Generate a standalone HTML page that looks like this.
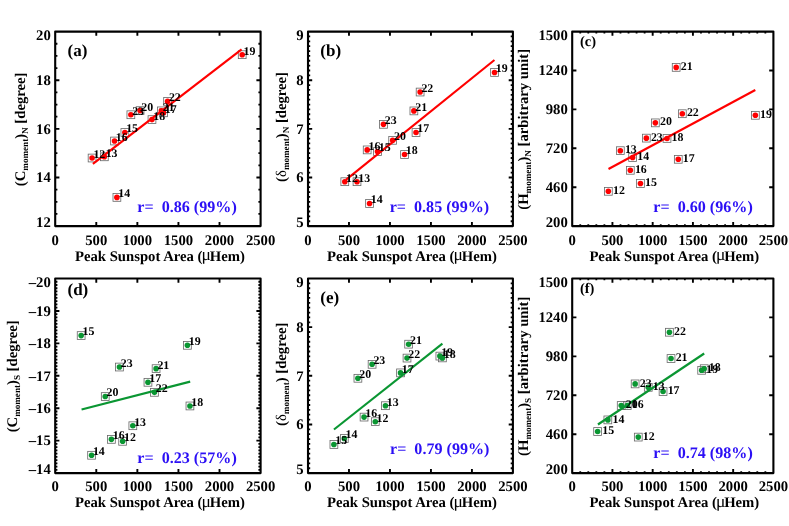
<!DOCTYPE html>
<html><head><meta charset="utf-8"><title>Moments vs Peak Sunspot Area</title>
<style>
html,body{margin:0;padding:0;background:#fff;}
body{width:789px;height:526px;overflow:hidden;}
svg{display:block;will-change:transform;}
text{font-family:"Liberation Serif",serif;text-rendering:geometricPrecision;}
.b{font-weight:bold;}
.n{font-weight:normal;}
.r{white-space:pre;}
</style></head>
<body>
<svg width="789" height="526" viewBox="0 0 789 526">
<rect width="789" height="526" fill="#fff"/>
<g id="panel-a">
<rect x="88.19" y="154.12" width="7.8" height="7.8" fill="none" stroke="#666" stroke-width="0.8"/>
<rect x="100.43" y="152.91" width="7.8" height="7.8" fill="none" stroke="#666" stroke-width="0.8"/>
<rect x="113" y="193.51" width="7.8" height="7.8" fill="none" stroke="#666" stroke-width="0.8"/>
<rect x="120.97" y="128.6" width="7.8" height="7.8" fill="none" stroke="#666" stroke-width="0.8"/>
<rect x="110.62" y="137.11" width="7.8" height="7.8" fill="none" stroke="#666" stroke-width="0.8"/>
<rect x="159.59" y="108.9" width="7.8" height="7.8" fill="none" stroke="#666" stroke-width="0.8"/>
<rect x="148.08" y="115.71" width="7.8" height="7.8" fill="none" stroke="#666" stroke-width="0.8"/>
<rect x="238.3" y="50.8" width="7.8" height="7.8" fill="none" stroke="#666" stroke-width="0.8"/>
<rect x="136.17" y="106.72" width="7.8" height="7.8" fill="none" stroke="#666" stroke-width="0.8"/>
<rect x="157.45" y="106.96" width="7.8" height="7.8" fill="none" stroke="#666" stroke-width="0.8"/>
<rect x="163.69" y="97.48" width="7.8" height="7.8" fill="none" stroke="#666" stroke-width="0.8"/>
<rect x="126.97" y="110.85" width="7.8" height="7.8" fill="none" stroke="#666" stroke-width="0.8"/>
<line x1="92.91" y1="163.86" x2="241.62" y2="49.35" stroke="#ff0000" stroke-width="2.15" stroke-linecap="butt"/>
<circle cx="92.09" cy="158.02" r="2.8" fill="#ff0000"/>
<circle cx="104.33" cy="156.81" r="2.8" fill="#ff0000"/>
<circle cx="116.9" cy="197.41" r="2.8" fill="#ff0000"/>
<circle cx="124.87" cy="132.5" r="2.8" fill="#ff0000"/>
<circle cx="114.52" cy="141.01" r="2.8" fill="#ff0000"/>
<circle cx="163.49" cy="112.8" r="2.8" fill="#ff0000"/>
<circle cx="151.98" cy="119.61" r="2.8" fill="#ff0000"/>
<circle cx="242.2" cy="54.7" r="2.8" fill="#ff0000"/>
<circle cx="140.07" cy="110.62" r="2.8" fill="#ff0000"/>
<circle cx="161.35" cy="110.86" r="2.8" fill="#ff0000"/>
<circle cx="167.59" cy="101.38" r="2.8" fill="#ff0000"/>
<circle cx="130.87" cy="114.75" r="2.8" fill="#ff0000"/>
<text x="93.39" y="157.92" font-size="11.9" class="b">12</text>
<text x="105.63" y="156.71" font-size="11.9" class="b">13</text>
<text x="118.2" y="197.31" font-size="11.9" class="b">14</text>
<text x="126.17" y="132.4" font-size="11.9" class="b">15</text>
<text x="115.82" y="140.91" font-size="11.9" class="b">16</text>
<text x="164.79" y="112.7" font-size="11.9" class="b">17</text>
<text x="153.28" y="119.51" font-size="11.9" class="b">18</text>
<text x="243.5" y="54.6" font-size="11.9" class="b">19</text>
<text x="141.37" y="110.52" font-size="11.9" class="b">20</text>
<text x="162.65" y="110.76" font-size="11.9" class="b">21</text>
<text x="168.89" y="101.28" font-size="11.9" class="b">22</text>
<text x="132.17" y="114.65" font-size="11.9" class="b">23</text>
<path d="M96.28 226.1v-4.2M96.28 31.6v4.2M137.36 226.1v-4.2M137.36 31.6v4.2M178.44 226.1v-4.2M178.44 31.6v4.2M219.52 226.1v-4.2M219.52 31.6v4.2M55.2 177.47h4.2M260.6 177.47h-4.2M55.2 128.85h4.2M260.6 128.85h-4.2M55.2 80.22h4.2M260.6 80.22h-4.2" stroke="#000" stroke-width="1.9" fill="none"/>
<path d="M55.2 213.94h2.2M260.6 213.94h-2.2M55.2 201.79h2.2M260.6 201.79h-2.2M55.2 189.63h2.2M260.6 189.63h-2.2M55.2 165.32h2.2M260.6 165.32h-2.2M55.2 153.16h2.2M260.6 153.16h-2.2M55.2 141.01h2.2M260.6 141.01h-2.2M55.2 116.69h2.2M260.6 116.69h-2.2M55.2 104.54h2.2M260.6 104.54h-2.2M55.2 92.38h2.2M260.6 92.38h-2.2M55.2 68.07h2.2M260.6 68.07h-2.2M55.2 55.91h2.2M260.6 55.91h-2.2M55.2 43.76h2.2M260.6 43.76h-2.2" stroke="#000" stroke-width="1.8" fill="none"/>
<rect x="55.2" y="31.6" width="205.4" height="194.5" fill="none" stroke="#000" stroke-width="2.1" stroke-linejoin="round"/>
<text x="55.2" y="244.8" font-size="14.7" text-anchor="middle" class="b">0</text>
<text x="96.28" y="244.8" font-size="14.7" text-anchor="middle" class="b">500</text>
<text x="137.36" y="244.8" font-size="14.7" text-anchor="middle" class="b">1000</text>
<text x="178.44" y="244.8" font-size="14.7" text-anchor="middle" class="b">1500</text>
<text x="219.52" y="244.8" font-size="14.7" text-anchor="middle" class="b">2000</text>
<text x="260.6" y="244.8" font-size="14.7" text-anchor="middle" class="b">2500</text>
<text x="50.8" y="226.6" font-size="14.7" text-anchor="end" class="b">12</text>
<text x="50.8" y="182.17" font-size="14.7" text-anchor="end" class="b">14</text>
<text x="50.8" y="133.55" font-size="14.7" text-anchor="end" class="b">16</text>
<text x="50.8" y="84.92" font-size="14.7" text-anchor="end" class="b">18</text>
<text x="50.8" y="40.4" font-size="14.7" text-anchor="end" class="b">20</text>
<text x="75" y="260.9" font-size="14.7" class="b">Peak Sunspot Area (<tspan class="n" font-size="17.5" dx="-0.9" dy="-0.6">μ</tspan><tspan dx="-1.2" dy="0.6">Hem)</tspan></text>
<text transform="translate(25.3 129.35) rotate(-90)" text-anchor="middle" font-size="14.7" class="b">(C<tspan font-size="9.1" dy="3">moment</tspan><tspan dy="-3">)</tspan><tspan font-size="9.1" dy="3">N</tspan><tspan dy="-3"> [degree]</tspan></text>
<text x="67.5" y="55.8" font-size="17.0" class="b">(a)</text>
<text x="137.3" y="211.8" font-size="16.1" class="b r" fill="#2b0ff5">r=  0.86 (99%)</text>
</g>
<g id="panel-b">
<rect x="340.9" y="177.81" width="7.8" height="7.8" fill="none" stroke="#666" stroke-width="0.8"/>
<rect x="353.11" y="177.81" width="7.8" height="7.8" fill="none" stroke="#666" stroke-width="0.8"/>
<rect x="365.65" y="199.59" width="7.8" height="7.8" fill="none" stroke="#666" stroke-width="0.8"/>
<rect x="373.6" y="147.61" width="7.8" height="7.8" fill="none" stroke="#666" stroke-width="0.8"/>
<rect x="363.28" y="146" width="7.8" height="7.8" fill="none" stroke="#666" stroke-width="0.8"/>
<rect x="412.12" y="128.6" width="7.8" height="7.8" fill="none" stroke="#666" stroke-width="0.8"/>
<rect x="400.65" y="150.62" width="7.8" height="7.8" fill="none" stroke="#666" stroke-width="0.8"/>
<rect x="490.64" y="68.54" width="7.8" height="7.8" fill="none" stroke="#666" stroke-width="0.8"/>
<rect x="388.76" y="136.43" width="7.8" height="7.8" fill="none" stroke="#666" stroke-width="0.8"/>
<rect x="409.99" y="107.01" width="7.8" height="7.8" fill="none" stroke="#666" stroke-width="0.8"/>
<rect x="416.22" y="88.14" width="7.8" height="7.8" fill="none" stroke="#666" stroke-width="0.8"/>
<rect x="379.59" y="120.43" width="7.8" height="7.8" fill="none" stroke="#666" stroke-width="0.8"/>
<line x1="345.87" y1="179.91" x2="494.46" y2="60" stroke="#ff0000" stroke-width="2.15" stroke-linecap="butt"/>
<circle cx="344.8" cy="181.71" r="2.8" fill="#ff0000"/>
<circle cx="357.01" cy="181.71" r="2.8" fill="#ff0000"/>
<circle cx="369.55" cy="203.49" r="2.8" fill="#ff0000"/>
<circle cx="377.5" cy="151.51" r="2.8" fill="#ff0000"/>
<circle cx="367.18" cy="149.9" r="2.8" fill="#ff0000"/>
<circle cx="416.02" cy="132.5" r="2.8" fill="#ff0000"/>
<circle cx="404.55" cy="154.52" r="2.8" fill="#ff0000"/>
<circle cx="494.54" cy="72.44" r="2.8" fill="#ff0000"/>
<circle cx="392.66" cy="140.33" r="2.8" fill="#ff0000"/>
<circle cx="413.89" cy="110.91" r="2.8" fill="#ff0000"/>
<circle cx="420.12" cy="92.04" r="2.8" fill="#ff0000"/>
<circle cx="383.49" cy="124.33" r="2.8" fill="#ff0000"/>
<text x="346.1" y="181.61" font-size="11.9" class="b">12</text>
<text x="358.31" y="181.61" font-size="11.9" class="b">13</text>
<text x="370.85" y="203.39" font-size="11.9" class="b">14</text>
<text x="378.8" y="151.41" font-size="11.9" class="b">15</text>
<text x="368.48" y="149.8" font-size="11.9" class="b">16</text>
<text x="417.32" y="132.4" font-size="11.9" class="b">17</text>
<text x="405.85" y="154.42" font-size="11.9" class="b">18</text>
<text x="495.84" y="72.34" font-size="11.9" class="b">19</text>
<text x="393.96" y="140.23" font-size="11.9" class="b">20</text>
<text x="415.19" y="110.81" font-size="11.9" class="b">21</text>
<text x="421.42" y="91.94" font-size="11.9" class="b">22</text>
<text x="384.79" y="124.23" font-size="11.9" class="b">23</text>
<path d="M348.98 226.1v-4.2M348.98 31.6v4.2M389.96 226.1v-4.2M389.96 31.6v4.2M430.94 226.1v-4.2M430.94 31.6v4.2M471.92 226.1v-4.2M471.92 31.6v4.2M308 177.47h4.2M512.9 177.47h-4.2M308 128.85h4.2M512.9 128.85h-4.2M308 80.22h4.2M512.9 80.22h-4.2" stroke="#000" stroke-width="1.9" fill="none"/>
<path d="M308 221.24h2.2M512.9 221.24h-2.2M308 216.38h2.2M512.9 216.38h-2.2M308 211.51h2.2M512.9 211.51h-2.2M308 206.65h2.2M512.9 206.65h-2.2M308 201.79h2.2M512.9 201.79h-2.2M308 196.93h2.2M512.9 196.93h-2.2M308 192.06h2.2M512.9 192.06h-2.2M308 187.2h2.2M512.9 187.2h-2.2M308 182.34h2.2M512.9 182.34h-2.2M308 172.61h2.2M512.9 172.61h-2.2M308 167.75h2.2M512.9 167.75h-2.2M308 162.89h2.2M512.9 162.89h-2.2M308 158.02h2.2M512.9 158.02h-2.2M308 153.16h2.2M512.9 153.16h-2.2M308 148.3h2.2M512.9 148.3h-2.2M308 143.44h2.2M512.9 143.44h-2.2M308 138.57h2.2M512.9 138.57h-2.2M308 133.71h2.2M512.9 133.71h-2.2M308 123.99h2.2M512.9 123.99h-2.2M308 119.12h2.2M512.9 119.12h-2.2M308 114.26h2.2M512.9 114.26h-2.2M308 109.4h2.2M512.9 109.4h-2.2M308 104.54h2.2M512.9 104.54h-2.2M308 99.68h2.2M512.9 99.68h-2.2M308 94.81h2.2M512.9 94.81h-2.2M308 89.95h2.2M512.9 89.95h-2.2M308 85.09h2.2M512.9 85.09h-2.2M308 75.36h2.2M512.9 75.36h-2.2M308 70.5h2.2M512.9 70.5h-2.2M308 65.64h2.2M512.9 65.64h-2.2M308 60.77h2.2M512.9 60.77h-2.2M308 55.91h2.2M512.9 55.91h-2.2M308 51.05h2.2M512.9 51.05h-2.2M308 46.19h2.2M512.9 46.19h-2.2M308 41.32h2.2M512.9 41.32h-2.2M308 36.46h2.2M512.9 36.46h-2.2" stroke="#000" stroke-width="1.8" fill="none"/>
<rect x="308" y="31.6" width="204.9" height="194.5" fill="none" stroke="#000" stroke-width="2.1" stroke-linejoin="round"/>
<text x="308" y="244.8" font-size="14.7" text-anchor="middle" class="b">0</text>
<text x="348.98" y="244.8" font-size="14.7" text-anchor="middle" class="b">500</text>
<text x="389.96" y="244.8" font-size="14.7" text-anchor="middle" class="b">1000</text>
<text x="430.94" y="244.8" font-size="14.7" text-anchor="middle" class="b">1500</text>
<text x="471.92" y="244.8" font-size="14.7" text-anchor="middle" class="b">2000</text>
<text x="512.9" y="244.8" font-size="14.7" text-anchor="middle" class="b">2500</text>
<text x="303.6" y="226.6" font-size="14.7" text-anchor="end" class="b">5</text>
<text x="303.6" y="182.17" font-size="14.7" text-anchor="end" class="b">6</text>
<text x="303.6" y="133.55" font-size="14.7" text-anchor="end" class="b">7</text>
<text x="303.6" y="84.92" font-size="14.7" text-anchor="end" class="b">8</text>
<text x="303.6" y="40.4" font-size="14.7" text-anchor="end" class="b">9</text>
<text x="327" y="260.9" font-size="14.7" class="b">Peak Sunspot Area (<tspan class="n" font-size="17.5" dx="-0.9" dy="-0.6">μ</tspan><tspan dx="-1.2" dy="0.6">Hem)</tspan></text>
<text transform="translate(286.4 126.95) rotate(-90)" text-anchor="middle" font-size="14.7" class="b">(<tspan class="n">δ</tspan><tspan font-size="9.1" dy="3">moment</tspan><tspan dy="-3">)</tspan><tspan font-size="9.1" dy="3">N</tspan><tspan dy="-3"> [degree]</tspan></text>
<text x="320.3" y="55.8" font-size="17.0" class="b">(b)</text>
<text x="389.7" y="211.8" font-size="16.1" class="b r" fill="#2b0ff5">r=  0.85 (99%)</text>
</g>
<g id="panel-c">
<rect x="604.44" y="187.4" width="7.8" height="7.8" fill="none" stroke="#666" stroke-width="0.8"/>
<rect x="616.43" y="146.79" width="7.8" height="7.8" fill="none" stroke="#666" stroke-width="0.8"/>
<rect x="628.74" y="153.59" width="7.8" height="7.8" fill="none" stroke="#666" stroke-width="0.8"/>
<rect x="636.55" y="179.59" width="7.8" height="7.8" fill="none" stroke="#666" stroke-width="0.8"/>
<rect x="626.41" y="166.39" width="7.8" height="7.8" fill="none" stroke="#666" stroke-width="0.8"/>
<rect x="674.37" y="155.4" width="7.8" height="7.8" fill="none" stroke="#666" stroke-width="0.8"/>
<rect x="663.11" y="134.53" width="7.8" height="7.8" fill="none" stroke="#666" stroke-width="0.8"/>
<rect x="751.47" y="111.39" width="7.8" height="7.8" fill="none" stroke="#666" stroke-width="0.8"/>
<rect x="651.44" y="118.97" width="7.8" height="7.8" fill="none" stroke="#666" stroke-width="0.8"/>
<rect x="672.28" y="63.49" width="7.8" height="7.8" fill="none" stroke="#666" stroke-width="0.8"/>
<rect x="678.4" y="109.84" width="7.8" height="7.8" fill="none" stroke="#666" stroke-width="0.8"/>
<rect x="642.42" y="134.23" width="7.8" height="7.8" fill="none" stroke="#666" stroke-width="0.8"/>
<line x1="608.5" y1="168.95" x2="755.29" y2="89.98" stroke="#ff0000" stroke-width="2.15" stroke-linecap="butt"/>
<circle cx="608.34" cy="191.3" r="2.8" fill="#ff0000"/>
<circle cx="620.33" cy="150.69" r="2.8" fill="#ff0000"/>
<circle cx="632.64" cy="157.49" r="2.8" fill="#ff0000"/>
<circle cx="640.45" cy="183.49" r="2.8" fill="#ff0000"/>
<circle cx="630.31" cy="170.29" r="2.8" fill="#ff0000"/>
<circle cx="678.27" cy="159.3" r="2.8" fill="#ff0000"/>
<circle cx="667.01" cy="138.43" r="2.8" fill="#ff0000"/>
<circle cx="755.37" cy="115.29" r="2.8" fill="#ff0000"/>
<circle cx="655.34" cy="122.87" r="2.8" fill="#ff0000"/>
<circle cx="676.18" cy="67.39" r="2.8" fill="#ff0000"/>
<circle cx="682.3" cy="113.74" r="2.8" fill="#ff0000"/>
<circle cx="646.32" cy="138.13" r="2.8" fill="#ff0000"/>
<text x="612.94" y="193.9" font-size="11.9" class="b">12</text>
<text x="624.93" y="153.29" font-size="11.9" class="b">13</text>
<text x="637.24" y="160.09" font-size="11.9" class="b">14</text>
<text x="645.05" y="186.09" font-size="11.9" class="b">15</text>
<text x="634.91" y="172.89" font-size="11.9" class="b">16</text>
<text x="682.87" y="161.9" font-size="11.9" class="b">17</text>
<text x="671.61" y="141.03" font-size="11.9" class="b">18</text>
<text x="759.97" y="117.89" font-size="11.9" class="b">19</text>
<text x="659.94" y="125.47" font-size="11.9" class="b">20</text>
<text x="680.78" y="69.99" font-size="11.9" class="b">21</text>
<text x="686.9" y="116.34" font-size="11.9" class="b">22</text>
<text x="650.92" y="140.73" font-size="11.9" class="b">23</text>
<path d="M612.44 226.1v-4.2M612.44 31.6v4.2M652.68 226.1v-4.2M652.68 31.6v4.2M692.92 226.1v-4.2M692.92 31.6v4.2M733.16 226.1v-4.2M733.16 31.6v4.2M572.2 187.2h4.2M773.4 187.2h-4.2M572.2 148.3h4.2M773.4 148.3h-4.2M572.2 109.4h4.2M773.4 109.4h-4.2M572.2 70.5h4.2M773.4 70.5h-4.2" stroke="#000" stroke-width="1.9" fill="none"/>
<path d="M580.25 226.1v-1.8M580.25 31.6v1.8M588.3 226.1v-1.8M588.3 31.6v1.8M596.34 226.1v-1.8M596.34 31.6v1.8M604.39 226.1v-1.8M604.39 31.6v1.8M620.49 226.1v-1.8M620.49 31.6v1.8M628.54 226.1v-1.8M628.54 31.6v1.8M636.58 226.1v-1.8M636.58 31.6v1.8M644.63 226.1v-1.8M644.63 31.6v1.8M660.73 226.1v-1.8M660.73 31.6v1.8M668.78 226.1v-1.8M668.78 31.6v1.8M676.82 226.1v-1.8M676.82 31.6v1.8M684.87 226.1v-1.8M684.87 31.6v1.8M700.97 226.1v-1.8M700.97 31.6v1.8M709.02 226.1v-1.8M709.02 31.6v1.8M717.06 226.1v-1.8M717.06 31.6v1.8M725.11 226.1v-1.8M725.11 31.6v1.8M741.21 226.1v-1.8M741.21 31.6v1.8M749.26 226.1v-1.8M749.26 31.6v1.8M757.3 226.1v-1.8M757.3 31.6v1.8M765.35 226.1v-1.8M765.35 31.6v1.8" stroke="#000" stroke-width="1.8" fill="none"/>
<rect x="572.2" y="31.6" width="201.2" height="194.5" fill="none" stroke="#000" stroke-width="2.1" stroke-linejoin="round"/>
<text x="572.2" y="244.8" font-size="14.7" text-anchor="middle" class="b">0</text>
<text x="612.44" y="244.8" font-size="14.7" text-anchor="middle" class="b">500</text>
<text x="652.68" y="244.8" font-size="14.7" text-anchor="middle" class="b">1000</text>
<text x="692.92" y="244.8" font-size="14.7" text-anchor="middle" class="b">1500</text>
<text x="733.16" y="244.8" font-size="14.7" text-anchor="middle" class="b">2000</text>
<text x="773.4" y="244.8" font-size="14.7" text-anchor="middle" class="b">2500</text>
<text x="567.8" y="226.6" font-size="14.7" text-anchor="end" class="b">200</text>
<text x="567.8" y="191.9" font-size="14.7" text-anchor="end" class="b">460</text>
<text x="567.8" y="153" font-size="14.7" text-anchor="end" class="b">720</text>
<text x="567.8" y="114.1" font-size="14.7" text-anchor="end" class="b">980</text>
<text x="567.8" y="75.2" font-size="14.7" text-anchor="end" class="b">1240</text>
<text x="567.8" y="40.4" font-size="14.7" text-anchor="end" class="b">1500</text>
<text x="589.4" y="260.9" font-size="14.7" class="b">Peak Sunspot Area (<tspan class="n" font-size="17.5" dx="-0.9" dy="-0.6">μ</tspan><tspan dx="-1.2" dy="0.6">Hem)</tspan></text>
<text transform="translate(527.7 129.35) rotate(-90)" text-anchor="middle" font-size="14.7" class="b">(H<tspan font-size="9.1" dy="3">moment</tspan><tspan dy="-3">)</tspan><tspan font-size="9.1" dy="3">N</tspan><tspan dy="-3"> [arbitrary unit]</tspan></text>
<text x="579.9" y="45.8" font-size="14.5" class="b">(c)</text>
<text x="653.3" y="211.8" font-size="16.1" class="b r" fill="#2b0ff5">r=  0.60 (96%)</text>
</g>
<g id="panel-d">
<rect x="118.75" y="437.42" width="7.8" height="7.8" fill="none" stroke="#666" stroke-width="0.8"/>
<rect x="128.94" y="421.85" width="7.8" height="7.8" fill="none" stroke="#666" stroke-width="0.8"/>
<rect x="87.7" y="451.36" width="7.8" height="7.8" fill="none" stroke="#666" stroke-width="0.8"/>
<rect x="77.26" y="331.68" width="7.8" height="7.8" fill="none" stroke="#666" stroke-width="0.8"/>
<rect x="107.5" y="435.47" width="7.8" height="7.8" fill="none" stroke="#666" stroke-width="0.8"/>
<rect x="144.06" y="378.39" width="7.8" height="7.8" fill="none" stroke="#666" stroke-width="0.8"/>
<rect x="186.04" y="402.06" width="7.8" height="7.8" fill="none" stroke="#666" stroke-width="0.8"/>
<rect x="183.5" y="341.41" width="7.8" height="7.8" fill="none" stroke="#666" stroke-width="0.8"/>
<rect x="101.34" y="392.66" width="7.8" height="7.8" fill="none" stroke="#666" stroke-width="0.8"/>
<rect x="152.19" y="364.76" width="7.8" height="7.8" fill="none" stroke="#666" stroke-width="0.8"/>
<rect x="150.55" y="388.44" width="7.8" height="7.8" fill="none" stroke="#666" stroke-width="0.8"/>
<rect x="115.55" y="363.14" width="7.8" height="7.8" fill="none" stroke="#666" stroke-width="0.8"/>
<line x1="81.57" y1="409.53" x2="190.19" y2="381.64" stroke="#0a9632" stroke-width="2.15" stroke-linecap="butt"/>
<circle cx="122.65" cy="441.32" r="2.8" fill="#0a9632"/>
<circle cx="132.84" cy="425.75" r="2.8" fill="#0a9632"/>
<circle cx="91.6" cy="455.26" r="2.8" fill="#0a9632"/>
<circle cx="81.16" cy="335.58" r="2.8" fill="#0a9632"/>
<circle cx="111.4" cy="439.37" r="2.8" fill="#0a9632"/>
<circle cx="147.96" cy="382.29" r="2.8" fill="#0a9632"/>
<circle cx="189.94" cy="405.96" r="2.8" fill="#0a9632"/>
<circle cx="187.4" cy="345.31" r="2.8" fill="#0a9632"/>
<circle cx="105.24" cy="396.56" r="2.8" fill="#0a9632"/>
<circle cx="156.09" cy="368.66" r="2.8" fill="#0a9632"/>
<circle cx="154.45" cy="392.34" r="2.8" fill="#0a9632"/>
<circle cx="119.45" cy="367.04" r="2.8" fill="#0a9632"/>
<text x="123.95" y="441.22" font-size="11.9" class="b">12</text>
<text x="134.14" y="425.65" font-size="11.9" class="b">13</text>
<text x="92.9" y="455.16" font-size="11.9" class="b">14</text>
<text x="82.46" y="335.48" font-size="11.9" class="b">15</text>
<text x="112.7" y="439.27" font-size="11.9" class="b">16</text>
<text x="149.26" y="382.19" font-size="11.9" class="b">17</text>
<text x="191.24" y="405.86" font-size="11.9" class="b">18</text>
<text x="188.7" y="345.21" font-size="11.9" class="b">19</text>
<text x="106.54" y="396.46" font-size="11.9" class="b">20</text>
<text x="157.39" y="368.56" font-size="11.9" class="b">21</text>
<text x="155.75" y="392.24" font-size="11.9" class="b">22</text>
<text x="120.75" y="366.94" font-size="11.9" class="b">23</text>
<path d="M96.28 473.1v-4.2M96.28 278.5v4.2M137.36 473.1v-4.2M137.36 278.5v4.2M178.44 473.1v-4.2M178.44 278.5v4.2M219.52 473.1v-4.2M219.52 278.5v4.2M55.2 440.67h4.2M260.6 440.67h-4.2M55.2 408.23h4.2M260.6 408.23h-4.2M55.2 375.8h4.2M260.6 375.8h-4.2M55.2 343.37h4.2M260.6 343.37h-4.2M55.2 310.93h4.2M260.6 310.93h-4.2" stroke="#000" stroke-width="1.9" fill="none"/>
<path d="M55.2 281.74h2.2M260.6 281.74h-2.2M55.2 284.99h2.2M260.6 284.99h-2.2M55.2 288.23h2.2M260.6 288.23h-2.2M55.2 291.47h2.2M260.6 291.47h-2.2M55.2 294.72h2.2M260.6 294.72h-2.2M55.2 297.96h2.2M260.6 297.96h-2.2M55.2 301.2h2.2M260.6 301.2h-2.2M55.2 304.45h2.2M260.6 304.45h-2.2M55.2 307.69h2.2M260.6 307.69h-2.2M55.2 314.18h2.2M260.6 314.18h-2.2M55.2 317.42h2.2M260.6 317.42h-2.2M55.2 320.66h2.2M260.6 320.66h-2.2M55.2 323.91h2.2M260.6 323.91h-2.2M55.2 327.15h2.2M260.6 327.15h-2.2M55.2 330.39h2.2M260.6 330.39h-2.2M55.2 333.64h2.2M260.6 333.64h-2.2M55.2 336.88h2.2M260.6 336.88h-2.2M55.2 340.12h2.2M260.6 340.12h-2.2M55.2 346.61h2.2M260.6 346.61h-2.2M55.2 349.85h2.2M260.6 349.85h-2.2M55.2 353.1h2.2M260.6 353.1h-2.2M55.2 356.34h2.2M260.6 356.34h-2.2M55.2 359.58h2.2M260.6 359.58h-2.2M55.2 362.83h2.2M260.6 362.83h-2.2M55.2 366.07h2.2M260.6 366.07h-2.2M55.2 369.31h2.2M260.6 369.31h-2.2M55.2 372.56h2.2M260.6 372.56h-2.2M55.2 379.04h2.2M260.6 379.04h-2.2M55.2 382.29h2.2M260.6 382.29h-2.2M55.2 385.53h2.2M260.6 385.53h-2.2M55.2 388.77h2.2M260.6 388.77h-2.2M55.2 392.02h2.2M260.6 392.02h-2.2M55.2 395.26h2.2M260.6 395.26h-2.2M55.2 398.5h2.2M260.6 398.5h-2.2M55.2 401.75h2.2M260.6 401.75h-2.2M55.2 404.99h2.2M260.6 404.99h-2.2M55.2 411.48h2.2M260.6 411.48h-2.2M55.2 414.72h2.2M260.6 414.72h-2.2M55.2 417.96h2.2M260.6 417.96h-2.2M55.2 421.21h2.2M260.6 421.21h-2.2M55.2 424.45h2.2M260.6 424.45h-2.2M55.2 427.69h2.2M260.6 427.69h-2.2M55.2 430.94h2.2M260.6 430.94h-2.2M55.2 434.18h2.2M260.6 434.18h-2.2M55.2 437.42h2.2M260.6 437.42h-2.2M55.2 443.91h2.2M260.6 443.91h-2.2M55.2 447.15h2.2M260.6 447.15h-2.2M55.2 450.4h2.2M260.6 450.4h-2.2M55.2 453.64h2.2M260.6 453.64h-2.2M55.2 456.88h2.2M260.6 456.88h-2.2M55.2 460.13h2.2M260.6 460.13h-2.2M55.2 463.37h2.2M260.6 463.37h-2.2M55.2 466.61h2.2M260.6 466.61h-2.2M55.2 469.86h2.2M260.6 469.86h-2.2" stroke="#000" stroke-width="1.8" fill="none"/>
<rect x="55.2" y="278.5" width="205.4" height="194.6" fill="none" stroke="#000" stroke-width="2.1" stroke-linejoin="round"/>
<text x="55.2" y="491.2" font-size="14.7" text-anchor="middle" class="b">0</text>
<text x="96.28" y="491.2" font-size="14.7" text-anchor="middle" class="b">500</text>
<text x="137.36" y="491.2" font-size="14.7" text-anchor="middle" class="b">1000</text>
<text x="178.44" y="491.2" font-size="14.7" text-anchor="middle" class="b">1500</text>
<text x="219.52" y="491.2" font-size="14.7" text-anchor="middle" class="b">2000</text>
<text x="260.6" y="491.2" font-size="14.7" text-anchor="middle" class="b">2500</text>
<text x="50.8" y="473.6" font-size="14.7" text-anchor="end" class="b">–14</text>
<text x="50.8" y="445.37" font-size="14.7" text-anchor="end" class="b">–15</text>
<text x="50.8" y="412.93" font-size="14.7" text-anchor="end" class="b">–16</text>
<text x="50.8" y="380.5" font-size="14.7" text-anchor="end" class="b">–17</text>
<text x="50.8" y="348.07" font-size="14.7" text-anchor="end" class="b">–18</text>
<text x="50.8" y="315.63" font-size="14.7" text-anchor="end" class="b">–19</text>
<text x="50.8" y="287.3" font-size="14.7" text-anchor="end" class="b">–20</text>
<text x="75" y="507.3" font-size="14.7" class="b">Peak Sunspot Area (<tspan class="n" font-size="17.5" dx="-0.9" dy="-0.6">μ</tspan><tspan dx="-1.2" dy="0.6">Hem)</tspan></text>
<text transform="translate(16.7 376.3) rotate(-90)" text-anchor="middle" font-size="14.7" class="b">(C<tspan font-size="9.1" dy="3">moment</tspan><tspan dy="-3">)</tspan><tspan font-size="9.1" dy="3">S</tspan><tspan dy="-3"> [degree]</tspan></text>
<text x="67.5" y="294.8" font-size="17.0" class="b">(d)</text>
<text x="137.3" y="463.4" font-size="16.1" class="b r" fill="#2b0ff5">r=  0.23 (57%)</text>
</g>
<g id="panel-e">
<rect x="371.39" y="417.78" width="7.8" height="7.8" fill="none" stroke="#666" stroke-width="0.8"/>
<rect x="381.55" y="401.82" width="7.8" height="7.8" fill="none" stroke="#666" stroke-width="0.8"/>
<rect x="340.41" y="434.61" width="7.8" height="7.8" fill="none" stroke="#666" stroke-width="0.8"/>
<rect x="330" y="440.59" width="7.8" height="7.8" fill="none" stroke="#666" stroke-width="0.8"/>
<rect x="360.16" y="413.2" width="7.8" height="7.8" fill="none" stroke="#666" stroke-width="0.8"/>
<rect x="396.63" y="368.98" width="7.8" height="7.8" fill="none" stroke="#666" stroke-width="0.8"/>
<rect x="438.51" y="354" width="7.8" height="7.8" fill="none" stroke="#666" stroke-width="0.8"/>
<rect x="435.97" y="352.2" width="7.8" height="7.8" fill="none" stroke="#666" stroke-width="0.8"/>
<rect x="354.01" y="374.38" width="7.8" height="7.8" fill="none" stroke="#666" stroke-width="0.8"/>
<rect x="404.75" y="340.28" width="7.8" height="7.8" fill="none" stroke="#666" stroke-width="0.8"/>
<rect x="403.11" y="354.19" width="7.8" height="7.8" fill="none" stroke="#666" stroke-width="0.8"/>
<rect x="368.19" y="360.42" width="7.8" height="7.8" fill="none" stroke="#666" stroke-width="0.8"/>
<line x1="333.98" y1="429.51" x2="442.41" y2="343.59" stroke="#0a9632" stroke-width="2.15" stroke-linecap="butt"/>
<circle cx="375.29" cy="421.68" r="2.8" fill="#0a9632"/>
<circle cx="385.45" cy="405.72" r="2.8" fill="#0a9632"/>
<circle cx="344.31" cy="438.51" r="2.8" fill="#0a9632"/>
<circle cx="333.9" cy="444.49" r="2.8" fill="#0a9632"/>
<circle cx="364.06" cy="417.1" r="2.8" fill="#0a9632"/>
<circle cx="400.53" cy="372.88" r="2.8" fill="#0a9632"/>
<circle cx="442.41" cy="357.9" r="2.8" fill="#0a9632"/>
<circle cx="439.87" cy="356.1" r="2.8" fill="#0a9632"/>
<circle cx="357.91" cy="378.28" r="2.8" fill="#0a9632"/>
<circle cx="408.65" cy="344.18" r="2.8" fill="#0a9632"/>
<circle cx="407.01" cy="358.09" r="2.8" fill="#0a9632"/>
<circle cx="372.09" cy="364.32" r="2.8" fill="#0a9632"/>
<text x="376.59" y="421.58" font-size="11.9" class="b">12</text>
<text x="386.75" y="405.62" font-size="11.9" class="b">13</text>
<text x="345.61" y="438.41" font-size="11.9" class="b">14</text>
<text x="335.2" y="444.39" font-size="11.9" class="b">15</text>
<text x="365.36" y="417" font-size="11.9" class="b">16</text>
<text x="401.83" y="372.78" font-size="11.9" class="b">17</text>
<text x="443.71" y="357.8" font-size="11.9" class="b">18</text>
<text x="441.17" y="356" font-size="11.9" class="b">19</text>
<text x="359.21" y="378.18" font-size="11.9" class="b">20</text>
<text x="409.95" y="344.08" font-size="11.9" class="b">21</text>
<text x="408.31" y="357.99" font-size="11.9" class="b">22</text>
<text x="373.39" y="364.22" font-size="11.9" class="b">23</text>
<path d="M348.98 473.1v-4.2M348.98 278.5v4.2M389.96 473.1v-4.2M389.96 278.5v4.2M430.94 473.1v-4.2M430.94 278.5v4.2M471.92 473.1v-4.2M471.92 278.5v4.2M308 424.45h4.2M512.9 424.45h-4.2M308 375.8h4.2M512.9 375.8h-4.2M308 327.15h4.2M512.9 327.15h-4.2" stroke="#000" stroke-width="1.9" fill="none"/>
<path d="M308 468.24h2.2M512.9 468.24h-2.2M308 463.37h2.2M512.9 463.37h-2.2M308 458.51h2.2M512.9 458.51h-2.2M308 453.64h2.2M512.9 453.64h-2.2M308 448.78h2.2M512.9 448.78h-2.2M308 443.91h2.2M512.9 443.91h-2.2M308 439.05h2.2M512.9 439.05h-2.2M308 434.18h2.2M512.9 434.18h-2.2M308 429.31h2.2M512.9 429.31h-2.2M308 419.59h2.2M512.9 419.59h-2.2M308 414.72h2.2M512.9 414.72h-2.2M308 409.86h2.2M512.9 409.86h-2.2M308 404.99h2.2M512.9 404.99h-2.2M308 400.12h2.2M512.9 400.12h-2.2M308 395.26h2.2M512.9 395.26h-2.2M308 390.39h2.2M512.9 390.39h-2.2M308 385.53h2.2M512.9 385.53h-2.2M308 380.66h2.2M512.9 380.66h-2.2M308 370.94h2.2M512.9 370.94h-2.2M308 366.07h2.2M512.9 366.07h-2.2M308 361.2h2.2M512.9 361.2h-2.2M308 356.34h2.2M512.9 356.34h-2.2M308 351.48h2.2M512.9 351.48h-2.2M308 346.61h2.2M512.9 346.61h-2.2M308 341.75h2.2M512.9 341.75h-2.2M308 336.88h2.2M512.9 336.88h-2.2M308 332.01h2.2M512.9 332.01h-2.2M308 322.29h2.2M512.9 322.29h-2.2M308 317.42h2.2M512.9 317.42h-2.2M308 312.55h2.2M512.9 312.55h-2.2M308 307.69h2.2M512.9 307.69h-2.2M308 302.82h2.2M512.9 302.82h-2.2M308 297.96h2.2M512.9 297.96h-2.2M308 293.1h2.2M512.9 293.1h-2.2M308 288.23h2.2M512.9 288.23h-2.2M308 283.37h2.2M512.9 283.37h-2.2" stroke="#000" stroke-width="1.8" fill="none"/>
<rect x="308" y="278.5" width="204.9" height="194.6" fill="none" stroke="#000" stroke-width="2.1" stroke-linejoin="round"/>
<text x="308" y="491.2" font-size="14.7" text-anchor="middle" class="b">0</text>
<text x="348.98" y="491.2" font-size="14.7" text-anchor="middle" class="b">500</text>
<text x="389.96" y="491.2" font-size="14.7" text-anchor="middle" class="b">1000</text>
<text x="430.94" y="491.2" font-size="14.7" text-anchor="middle" class="b">1500</text>
<text x="471.92" y="491.2" font-size="14.7" text-anchor="middle" class="b">2000</text>
<text x="512.9" y="491.2" font-size="14.7" text-anchor="middle" class="b">2500</text>
<text x="303.6" y="473.6" font-size="14.7" text-anchor="end" class="b">5</text>
<text x="303.6" y="429.15" font-size="14.7" text-anchor="end" class="b">6</text>
<text x="303.6" y="380.5" font-size="14.7" text-anchor="end" class="b">7</text>
<text x="303.6" y="331.85" font-size="14.7" text-anchor="end" class="b">8</text>
<text x="303.6" y="287.3" font-size="14.7" text-anchor="end" class="b">9</text>
<text x="327" y="507.3" font-size="14.7" class="b">Peak Sunspot Area (<tspan class="n" font-size="17.5" dx="-0.9" dy="-0.6">μ</tspan><tspan dx="-1.2" dy="0.6">Hem)</tspan></text>
<text transform="translate(286.4 374.3) rotate(-90)" text-anchor="middle" font-size="14.7" class="b">(<tspan class="n">δ</tspan><tspan font-size="9.1" dy="3">moment</tspan><tspan dy="-3">)</tspan><tspan> [degree]</tspan></text>
<text x="320.3" y="302.7" font-size="17.0" class="b">(e)</text>
<text x="390" y="453.8" font-size="16.1" class="b r" fill="#2b0ff5">r=  0.79 (99%)</text>
</g>
<g id="panel-f">
<rect x="634.37" y="433.2" width="7.8" height="7.8" fill="none" stroke="#666" stroke-width="0.8"/>
<rect x="644.35" y="383.43" width="7.8" height="7.8" fill="none" stroke="#666" stroke-width="0.8"/>
<rect x="603.95" y="416" width="7.8" height="7.8" fill="none" stroke="#666" stroke-width="0.8"/>
<rect x="593.73" y="427.6" width="7.8" height="7.8" fill="none" stroke="#666" stroke-width="0.8"/>
<rect x="623.35" y="401.6" width="7.8" height="7.8" fill="none" stroke="#666" stroke-width="0.8"/>
<rect x="659.16" y="387.62" width="7.8" height="7.8" fill="none" stroke="#666" stroke-width="0.8"/>
<rect x="700.29" y="364.8" width="7.8" height="7.8" fill="none" stroke="#666" stroke-width="0.8"/>
<rect x="697.79" y="366.41" width="7.8" height="7.8" fill="none" stroke="#666" stroke-width="0.8"/>
<rect x="617.31" y="401.6" width="7.8" height="7.8" fill="none" stroke="#666" stroke-width="0.8"/>
<rect x="667.13" y="354.6" width="7.8" height="7.8" fill="none" stroke="#666" stroke-width="0.8"/>
<rect x="665.52" y="328.34" width="7.8" height="7.8" fill="none" stroke="#666" stroke-width="0.8"/>
<rect x="631.24" y="380" width="7.8" height="7.8" fill="none" stroke="#666" stroke-width="0.8"/>
<line x1="597.95" y1="424.51" x2="704.19" y2="353.5" stroke="#0a9632" stroke-width="2.15" stroke-linecap="butt"/>
<circle cx="638.27" cy="437.1" r="2.8" fill="#0a9632"/>
<circle cx="648.25" cy="387.33" r="2.8" fill="#0a9632"/>
<circle cx="607.85" cy="419.9" r="2.8" fill="#0a9632"/>
<circle cx="597.63" cy="431.5" r="2.8" fill="#0a9632"/>
<circle cx="627.25" cy="405.5" r="2.8" fill="#0a9632"/>
<circle cx="663.06" cy="391.52" r="2.8" fill="#0a9632"/>
<circle cx="704.19" cy="368.7" r="2.8" fill="#0a9632"/>
<circle cx="701.69" cy="370.31" r="2.8" fill="#0a9632"/>
<circle cx="621.21" cy="405.5" r="2.8" fill="#0a9632"/>
<circle cx="671.03" cy="358.5" r="2.8" fill="#0a9632"/>
<circle cx="669.42" cy="332.24" r="2.8" fill="#0a9632"/>
<circle cx="635.14" cy="383.9" r="2.8" fill="#0a9632"/>
<text x="642.87" y="439.7" font-size="11.9" class="b">12</text>
<text x="652.85" y="389.93" font-size="11.9" class="b">13</text>
<text x="612.45" y="422.5" font-size="11.9" class="b">14</text>
<text x="602.23" y="434.1" font-size="11.9" class="b">15</text>
<text x="631.85" y="408.1" font-size="11.9" class="b">16</text>
<text x="667.66" y="394.12" font-size="11.9" class="b">17</text>
<text x="708.79" y="371.3" font-size="11.9" class="b">18</text>
<text x="706.29" y="372.91" font-size="11.9" class="b">19</text>
<text x="625.81" y="408.1" font-size="11.9" class="b">20</text>
<text x="675.63" y="361.1" font-size="11.9" class="b">21</text>
<text x="674.02" y="334.84" font-size="11.9" class="b">22</text>
<text x="639.74" y="386.5" font-size="11.9" class="b">23</text>
<path d="M612.44 473.1v-4.2M612.44 278.5v4.2M652.68 473.1v-4.2M652.68 278.5v4.2M692.92 473.1v-4.2M692.92 278.5v4.2M733.16 473.1v-4.2M733.16 278.5v4.2M572.2 434.18h4.2M773.4 434.18h-4.2M572.2 395.26h4.2M773.4 395.26h-4.2M572.2 356.34h4.2M773.4 356.34h-4.2M572.2 317.42h4.2M773.4 317.42h-4.2" stroke="#000" stroke-width="1.9" fill="none"/>
<path d="M580.25 473.1v-1.8M580.25 278.5v1.8M588.3 473.1v-1.8M588.3 278.5v1.8M596.34 473.1v-1.8M596.34 278.5v1.8M604.39 473.1v-1.8M604.39 278.5v1.8M620.49 473.1v-1.8M620.49 278.5v1.8M628.54 473.1v-1.8M628.54 278.5v1.8M636.58 473.1v-1.8M636.58 278.5v1.8M644.63 473.1v-1.8M644.63 278.5v1.8M660.73 473.1v-1.8M660.73 278.5v1.8M668.78 473.1v-1.8M668.78 278.5v1.8M676.82 473.1v-1.8M676.82 278.5v1.8M684.87 473.1v-1.8M684.87 278.5v1.8M700.97 473.1v-1.8M700.97 278.5v1.8M709.02 473.1v-1.8M709.02 278.5v1.8M717.06 473.1v-1.8M717.06 278.5v1.8M725.11 473.1v-1.8M725.11 278.5v1.8M741.21 473.1v-1.8M741.21 278.5v1.8M749.26 473.1v-1.8M749.26 278.5v1.8M757.3 473.1v-1.8M757.3 278.5v1.8M765.35 473.1v-1.8M765.35 278.5v1.8" stroke="#000" stroke-width="1.8" fill="none"/>
<rect x="572.2" y="278.5" width="201.2" height="194.6" fill="none" stroke="#000" stroke-width="2.1" stroke-linejoin="round"/>
<text x="572.2" y="491.2" font-size="14.7" text-anchor="middle" class="b">0</text>
<text x="612.44" y="491.2" font-size="14.7" text-anchor="middle" class="b">500</text>
<text x="652.68" y="491.2" font-size="14.7" text-anchor="middle" class="b">1000</text>
<text x="692.92" y="491.2" font-size="14.7" text-anchor="middle" class="b">1500</text>
<text x="733.16" y="491.2" font-size="14.7" text-anchor="middle" class="b">2000</text>
<text x="773.4" y="491.2" font-size="14.7" text-anchor="middle" class="b">2500</text>
<text x="567.8" y="473.6" font-size="14.7" text-anchor="end" class="b">200</text>
<text x="567.8" y="438.88" font-size="14.7" text-anchor="end" class="b">460</text>
<text x="567.8" y="399.96" font-size="14.7" text-anchor="end" class="b">720</text>
<text x="567.8" y="361.04" font-size="14.7" text-anchor="end" class="b">980</text>
<text x="567.8" y="322.12" font-size="14.7" text-anchor="end" class="b">1240</text>
<text x="567.8" y="287.3" font-size="14.7" text-anchor="end" class="b">1500</text>
<text x="589.4" y="507.3" font-size="14.7" class="b">Peak Sunspot Area (<tspan class="n" font-size="17.5" dx="-0.9" dy="-0.6">μ</tspan><tspan dx="-1.2" dy="0.6">Hem)</tspan></text>
<text transform="translate(527.7 376.3) rotate(-90)" text-anchor="middle" font-size="14.7" class="b">(H<tspan font-size="9.1" dy="3">moment</tspan><tspan dy="-3">)</tspan><tspan font-size="9.1" dy="3">S</tspan><tspan dy="-3"> [arbitrary unit]</tspan></text>
<text x="579.9" y="292.7" font-size="14.5" class="b">(f)</text>
<text x="653.3" y="458.3" font-size="16.1" class="b r" fill="#2b0ff5">r=  0.74 (98%)</text>
</g>
</svg>
</body></html>
